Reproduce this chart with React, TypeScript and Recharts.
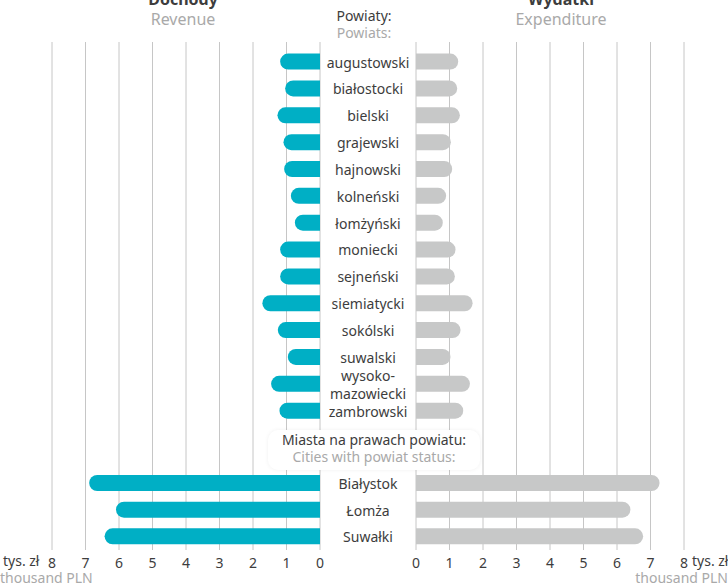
import { BarChart, Bar, XAxis, YAxis, CartesianGrid } from 'recharts';

const powiaty = [
  'augustowski', 'białostocki', 'bielski', 'grajewski', 'hajnowski', 'kolneński', 'łomżyński',
  'moniecki', 'sejneński', 'siemiatycki', 'sokólski', 'suwalski', 'wysoko-mazowiecki', 'zambrowski',
];
const powiatRevenue = [1.19, 1.04, 1.27, 1.09, 1.07, 0.87, 0.75, 1.19, 1.19, 1.72, 1.26, 0.96, 1.46, 1.21];
const powiatExpenditure = [1.26, 1.23, 1.31, 1.04, 1.08, 0.9, 0.8, 1.18, 1.16, 1.69, 1.33, 1.03, 1.61, 1.41];

const cities = ['Białystok', 'Łomża', 'Suwałki'];
const cityRevenue = [6.89, 6.09, 6.43];
const cityExpenditure = [7.27, 6.4, 6.78];

const axisTicks = [0, 1, 2, 3, 4, 5, 6, 7, 8];

const TEAL = '#00afc5';
const GREY_BAR = '#c7c8c8';
const GRID = '#c6c6c6';
const DARK = '#3d3d3d';
const LIGHT = '#a9a9a9';
const FONT = '"Noto Sans", "Open Sans", sans-serif';

const powiatData = powiaty.map((name, i) => ({ name, revenue: powiatRevenue[i], expenditure: powiatExpenditure[i] }));
const cityData = cities.map((name, i) => ({ name, revenue: cityRevenue[i], expenditure: cityExpenditure[i] }));

const CenterTick = (props: any) => {
  const { x, y, payload } = props;
  const label: string = payload.value;
  const cx = x + 48;
  if (label.includes('-')) {
    const [a, b] = label.split('-');
    return (
      <text x={cx} textAnchor="middle" fontSize={14} fill={DARK} fontFamily={FONT}>
        <tspan x={cx} y={y - 9} dominantBaseline="central">{a}-</tspan>
        <tspan x={cx} y={y + 9} dominantBaseline="central">{b}</tspan>
      </text>
    );
  }
  return (
    <text x={cx} y={y} textAnchor="middle" dominantBaseline="central" fontSize={14} fill={DARK} fontFamily={FONT}>
      {label}
    </text>
  );
};

const NoTick = () => <g />;

type PanelProps = {
  data: { name: string; revenue: number; expenditure: number }[];
  top: number;
  height: number;
  padTop: number;
  padBottom: number;
  showTicks: boolean;
};

function Panel({ data, top, height, padTop, padBottom, showTicks }: PanelProps) {
  const axisHeight = showTicks ? 30 : 1;
  const xTick: any = showTicks ? { fontSize: 14, fill: DARK, fontFamily: FONT } : <NoTick />;
  return (
    <>
      <div style={{ position: 'absolute', left: 0, top }}>
        <BarChart
          width={416}
          height={height + axisHeight}
          data={data}
          layout="vertical"
          margin={{ top: 0, right: 0, bottom: 0, left: 52 }}
        >
          <CartesianGrid horizontal={false} stroke={GRID} />
          <XAxis
            type="number"
            domain={[0, 8]}
            ticks={axisTicks}
            interval={0}
            reversed
            axisLine={false}
            tickLine={false}
            tick={xTick}
            height={axisHeight}
          />
          <YAxis
            type="category"
            dataKey="name"
            orientation="right"
            width={96}
            axisLine={false}
            tickLine={false}
            tickSize={0}
            tickMargin={0}
            interval={0}
            tick={<CenterTick />}
            padding={{ top: padTop, bottom: padBottom }}
          />
          <Bar dataKey="revenue" fill={TEAL} barSize={16} radius={[0, 8, 8, 0]} isAnimationActive={false} />
        </BarChart>
      </div>
      <div style={{ position: 'absolute', left: 396, top }}>
        <BarChart
          width={332}
          height={height + axisHeight}
          data={data}
          layout="vertical"
          margin={{ top: 0, right: 44, bottom: 0, left: 20 }}
        >
          <CartesianGrid horizontal={false} stroke={GRID} />
          <XAxis
            type="number"
            domain={[0, 8]}
            ticks={axisTicks}
            interval={0}
            axisLine={false}
            tickLine={false}
            tick={xTick}
            height={axisHeight}
          />
          <YAxis type="category" dataKey="name" hide padding={{ top: padTop, bottom: padBottom }} />
          <Bar dataKey="expenditure" fill={GREY_BAR} barSize={16} radius={[0, 8, 8, 0]} isAnimationActive={false} />
        </BarChart>
      </div>
    </>
  );
}

const txt = (extra: React.CSSProperties): React.CSSProperties => ({
  position: 'absolute',
  fontFamily: FONT,
  whiteSpace: 'nowrap',
  lineHeight: 1,
  ...extra,
});

export default function App() {
  return (
    <div style={{ position: 'absolute', left: 0, top: 0, width: 728, height: 585, overflow: 'hidden', background: '#fff' }}>
      <Panel data={powiatData} top={42} height={386} padTop={6.6} padBottom={3.5} showTicks={false} />
      <Panel data={cityData} top={428} height={122} padTop={42} padBottom={0} showTicks />

      {/* headers */}
      <div style={txt({ left: 83, width: 200, textAlign: 'center', top: -9, fontSize: 16, fontWeight: 700, color: DARK })}>Dochody</div>
      <div style={txt({ left: 83, width: 200, textAlign: 'center', top: 11, fontSize: 16, color: LIGHT })}>Revenue</div>
      <div style={txt({ left: 461, width: 200, textAlign: 'center', top: -9, fontSize: 16, fontWeight: 700, color: DARK })}>Wydatki</div>
      <div style={txt({ left: 461, width: 200, textAlign: 'center', top: 11, fontSize: 16, color: LIGHT })}>Expenditure</div>
      <div style={txt({ left: 314, width: 100, textAlign: 'center', top: 9, fontSize: 14, color: DARK })}>Powiaty:</div>
      <div style={txt({ left: 314, width: 100, textAlign: 'center', top: 26, fontSize: 14, color: LIGHT })}>Powiats:</div>

      {/* cities group header */}
      <div
        style={{
          position: 'absolute',
          left: 268,
          top: 430,
          width: 212,
          height: 40,
          background: '#fff',
          borderRadius: 10,
          boxShadow: '0 0 4px rgba(0,0,0,0.06)',
        }}
      />
      <div style={txt({ left: 268, width: 212, textAlign: 'center', top: 433, fontSize: 14, color: DARK })}>Miasta na prawach powiatu:</div>
      <div style={txt({ left: 268, width: 212, textAlign: 'center', top: 450, fontSize: 14, color: LIGHT })}>Cities with powiat status:</div>

      {/* unit labels */}
      <div style={txt({ left: 3, top: 554, fontSize: 14, color: DARK })}>tys. zł</div>
      <div style={txt({ left: 0, top: 571, fontSize: 14, color: LIGHT })}>thousand PLN</div>
      <div style={txt({ left: 692, top: 554, fontSize: 14, color: DARK })}>tys. zł</div>
      <div style={txt({ right: 0, top: 571, fontSize: 14, color: LIGHT })}>thousand PLN</div>
    </div>
  );
}
